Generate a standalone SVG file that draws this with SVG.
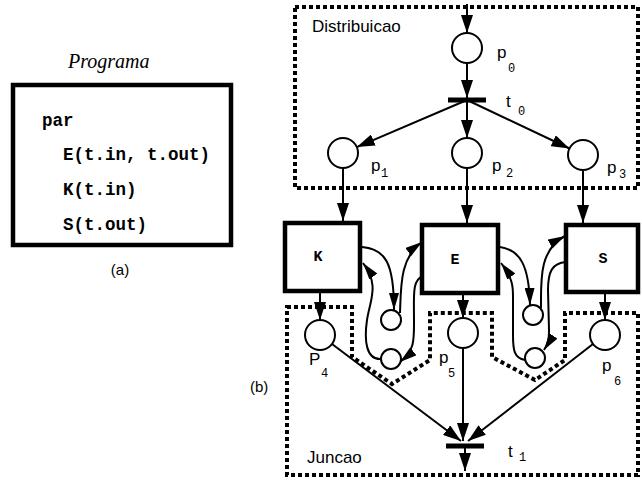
<svg xmlns="http://www.w3.org/2000/svg" width="642" height="481" viewBox="0 0 642 481">
<defs>
<marker id="ah" markerUnits="userSpaceOnUse" markerWidth="18" markerHeight="12" viewBox="0 0 18 12" refX="18" refY="6" orient="auto"><path d="M0,0 L18,6 L0,12 z" fill="#000"/></marker>
<marker id="as" markerUnits="userSpaceOnUse" markerWidth="17" markerHeight="10" viewBox="0 0 17 10" refX="17" refY="5" orient="auto"><path d="M0,0 L17,5 L0,10 z" fill="#000"/></marker>
</defs>
<style>
.ln{stroke:#000;stroke-width:2;fill:none}
.pl{fill:#fff;stroke:#000;stroke-width:2}
.box{fill:#fff;stroke:#000;stroke-width:4.5}
.bar{stroke:#000;stroke-width:5}
.dot{fill:none;stroke:#000;stroke-width:4;stroke-dasharray:4 3}
.lb{font-family:"Liberation Sans",Arial,sans-serif;font-size:17px}
.sb{font-family:"Liberation Mono","DejaVu Sans Mono",monospace;font-size:12px}
.code{font-family:"Liberation Mono","Courier New",monospace;font-weight:bold;font-size:17.5px}
.bl{font-family:"Liberation Mono","Courier New",monospace;font-weight:bold;font-size:15px}
</style>
<rect width="642" height="481" fill="#fff"/>

<g id="programa">
<text x="68" y="68" font-family="'Liberation Serif','Times New Roman',serif" font-style="italic" font-size="20">Programa</text>
<rect x="13" y="85" width="218" height="160" fill="none" stroke="#000" stroke-width="4.5"/>
<text class="code" x="42" y="126">par</text>
<text class="code" x="63" y="160">E(t.in, t.out)</text>
<text class="code" x="63" y="195">K(t.in)</text>
<text class="code" x="63" y="230">S(t.out)</text>
<text x="120" y="275" font-family="'Liberation Sans',Arial,sans-serif" font-size="15" text-anchor="middle">(a)</text>
</g>

<g id="distribuicao">
<rect class="dot" x="295" y="7" width="343" height="181"/>
<text class="lb" x="312" y="32">Distribuicao</text>
</g>
<g id="juncao">
<path class="dot" d="M287,307 L352,307 L352,357 L392,384 L430,360 L430,313 L492,313 L492,357 L535,380 L565,360 L565,313 L638,313 L638,475 L287,475 Z"/>
<text class="lb" x="307" y="463">Juncao</text>
</g>
<text x="250" y="392" font-family="'Liberation Sans',Arial,sans-serif" font-size="15">(b)</text>

<g id="connectors">
<line class="ln" x1="467" y1="4" x2="467" y2="33" marker-end="url(#ah)"/>
<line class="ln" x1="467" y1="63" x2="467" y2="98" marker-end="url(#ah)"/>
<line class="ln" x1="467" y1="100" x2="356.8" y2="147.1" marker-end="url(#ah)"/>
<line class="ln" x1="467" y1="100" x2="467" y2="138" marker-end="url(#ah)"/>
<line class="ln" x1="467" y1="100" x2="569.5" y2="148.5" marker-end="url(#ah)"/>
<line class="ln" x1="343" y1="168" x2="343" y2="221" marker-end="url(#ah)"/>
<line class="ln" x1="467" y1="168" x2="467" y2="223" marker-end="url(#ah)"/>
<line class="ln" x1="583" y1="170" x2="583" y2="223" marker-end="url(#ah)"/>
<line class="ln" x1="320" y1="292" x2="320" y2="320" marker-end="url(#ah)"/>
<line class="ln" x1="463" y1="295" x2="463" y2="318" marker-end="url(#ah)"/>
<line class="ln" x1="605" y1="294" x2="605" y2="320" marker-end="url(#ah)"/>
<path class="ln" d="M362,247 C385,249 394,262 394,310" marker-end="url(#as)"/>
<path class="ln" d="M400,313 C401,285 400,258 422,242" marker-end="url(#as)"/>
<path class="ln" d="M423,276 C412,280 414,295 414,320 C414,340 415,350 400,362" marker-end="url(#as)"/>
<path class="ln" d="M381,359 C366,360 364,340 367,320 C370,300 380,285 363,263" marker-end="url(#as)"/>
<path class="ln" d="M500,247 C520,250 529,265 530,305" marker-end="url(#as)"/>
<path class="ln" d="M525,360 C514,358 513,350 513,335 L513,300 C513,288 514,280 501,263" marker-end="url(#as)"/>
<path class="ln" d="M541,308 C541,280 539,250 565,236" marker-end="url(#as)"/>
<path class="ln" d="M566,262 C552,263 548,272 548,290 L549,330 C549,340 548,344 544,350" marker-end="url(#as)"/>
<line class="ln" x1="332" y1="344" x2="461" y2="441" marker-end="url(#ah)"/>
<line class="ln" x1="463" y1="348" x2="463" y2="441" marker-end="url(#ah)"/>
<line class="ln" x1="593" y1="344" x2="468" y2="441" marker-end="url(#ah)"/>
<line class="ln" x1="465" y1="447" x2="465" y2="471" marker-end="url(#ah)"/>
</g>

<g id="p0"><circle class="pl" cx="467" cy="48" r="15"/><text class="lb" x="497" y="58">p</text><text class="sb" x="508" y="72">0</text></g>
<g id="t0"><line class="bar" x1="448" y1="100" x2="486" y2="100"/><text class="lb" x="506" y="107">t</text><text class="sb" x="518" y="115">0</text></g>
<g id="p1"><circle class="pl" cx="343" cy="153" r="15"/><text class="lb" x="371" y="171">p</text><text class="sb" x="381" y="177">1</text></g>
<g id="p2"><circle class="pl" cx="467" cy="153" r="15"/><text class="lb" x="492" y="171">p</text><text class="sb" x="506" y="177">2</text></g>
<g id="p3"><circle class="pl" cx="583" cy="155" r="15"/><text class="lb" x="607" y="173">p</text><text class="sb" x="619" y="178">3</text></g>
<g id="K"><rect class="box" x="285" y="223" width="75" height="68"/><text class="bl" x="318" y="261" text-anchor="middle">K</text></g>
<g id="E"><rect class="box" x="422" y="225" width="76" height="68"/><text class="bl" x="455" y="264" text-anchor="middle">E</text></g>
<g id="S"><rect class="box" x="566" y="225" width="72" height="67"/><text class="bl" x="603" y="263" text-anchor="middle">S</text></g>
<g id="u1"><circle class="pl" cx="391" cy="320" r="10"/></g>
<g id="l1"><circle class="pl" cx="391" cy="359" r="10"/></g>
<g id="u2"><circle class="pl" cx="533" cy="315" r="10"/></g>
<g id="l2"><circle class="pl" cx="535" cy="358" r="10"/></g>
<g id="p4"><circle class="pl" cx="320" cy="335" r="15"/><text class="lb" x="309" y="365">P</text><text class="sb" x="321" y="377">4</text></g>
<g id="p5"><circle class="pl" cx="463" cy="333" r="15"/><text class="lb" x="439" y="363">p</text><text class="sb" x="448" y="377">5</text></g>
<g id="p6"><circle class="pl" cx="605" cy="335" r="15"/><text class="lb" x="602" y="371">p</text><text class="sb" x="614" y="385">6</text></g>
<g id="t1"><line class="bar" x1="446" y1="446" x2="484" y2="446"/><text class="lb" x="508" y="457">t</text><text class="sb" x="519" y="461">1</text></g>
</svg>
